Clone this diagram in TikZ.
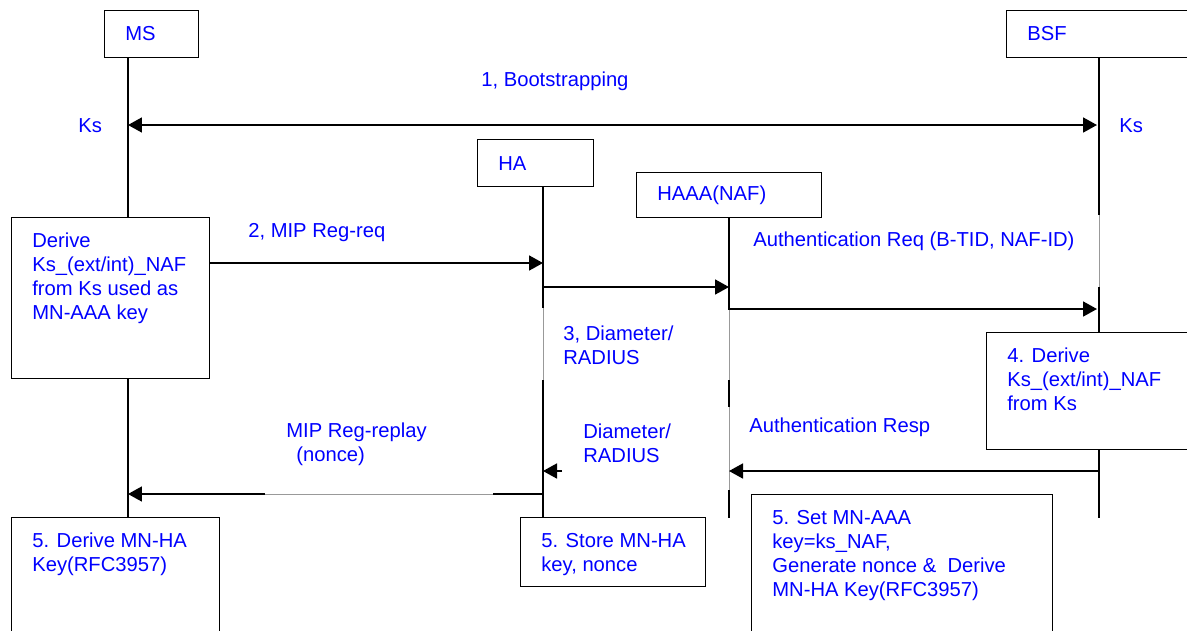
\documentclass[tikz,border=0pt]{standalone}
\usepackage{fontspec}
\setmainfont{Liberation Sans}
\usetikzlibrary{arrows.meta}

\begin{document}
\begin{tikzpicture}[x=0.02cm,y=-0.02cm,
  box/.style={draw,line width=0.75pt,inner sep=0pt,anchor=north west},
  lbl/.style={text=blue,inner sep=0pt,anchor=base west,align=left,font=\fontsize{11.5}{13.6}\selectfont},
  life/.style={line width=0.95pt},
  faint/.style={line width=0.35pt,black!40},
  msg/.style={line width=1pt,-{Triangle[length=0.28cm,width=0.3cm]}}]
\useasboundingbox (0,0) rectangle (1187,630);
\clip (0,0) rectangle (1187,630);
% entities
\node[box,minimum width=1.88cm,minimum height=0.94cm] (ms) at (104,10) {};
\node[box,minimum width=3.72cm,minimum height=0.94cm] (bsf) at (1006,10) {};
\node[box,minimum width=2.32cm,minimum height=0.94cm] (ha) at (477,139) {};
\node[box,minimum width=3.70cm,minimum height=0.90cm] (haaa) at (636,172) {};
% step boxes
\node[box,minimum width=3.96cm,minimum height=3.22cm] (msd) at (11,217) {};
\node[box,minimum width=4.12cm,minimum height=2.34cm] (bsfd) at (986,332) {};
\node[box,minimum width=4.16cm,minimum height=2.60cm] (msk) at (11,517) {};
\node[box,minimum width=3.70cm,minimum height=1.38cm] (has) at (520,517) {};
\node[box,minimum width=6.02cm,minimum height=3.00cm] (haaak) at (751,494) {};
% lifeline x and message y
\coordinate (msl) at (128,0);
\coordinate (hal) at (543,0);
\coordinate (haaal) at (729,0);
\coordinate (bsfl) at (1099,0);
\coordinate (y1) at (0,125);
\coordinate (y2) at (0,263);
\coordinate (y3) at (0,287);
\coordinate (y4) at (0,309);
\coordinate (y5) at (0,471);
\coordinate (y6) at (0,494);
\coordinate (lifeend) at (0,518);
% texts (multi-line: baseline of last line)
\node[lbl] (mst) at (125,40) {MS};
\node[lbl] (bsft) at (1027,40) {BSF};
\node[lbl] (hat) at (498,170) {HA};
\node[lbl] (haaat) at (657,200) {HAAA(NAF)};
\node[lbl] (boot) at (481,86) {1, Bootstrapping};
\node[lbl] (ksl) at (78,132) {Ks};
\node[lbl] (ksr) at (1119,132) {Ks};
\node[lbl] (req) at (248,237) {2, MIP Reg-req};
\node[lbl] (authreq) at (753,246) {Authentication Req (B-TID, NAF-ID)};
\node[lbl] (dia1) at (563,364) {3, Diameter/\\RADIUS};
\node[lbl] (authresp) at (749,432) {Authentication Resp};
\node[lbl] (dia2) at (583,462) {Diameter/\\RADIUS};
\node[lbl] (rep) at (286,461) {MIP Reg-replay\\\hspace*{0.2cm}(nonce)};
\node[lbl] (msdt) at (32,319) {Derive\\Ks\_(ext/int)\_NAF\\from Ks used as\\MN-AAA key};
\node[lbl] (bsfdt) at (1007,410) {4. Derive\\Ks\_(ext/int)\_NAF\\from Ks};
\node[lbl] (mskt) at (32,571) {5. Derive MN-HA\\Key(RFC3957)};
\node[lbl] (hast) at (541,571) {5. Store MN-HA\\key, nonce};
\node[lbl] (haaakt) at (772,596) {5. Set MN-AAA\\key=ks\_NAF,\\Generate nonce \&\ \ Derive\\MN-HA Key(RFC3957)};
% lifelines
\draw[life] (ms.south -| msl) -- (msl |- msd.north);
\draw[life] (msd.south -| msl) -- (msl |- msk.north);
\draw[life] (ha.south -| hal) -- (543,308);
\draw[faint] (543,308) -- (543,380);
\draw[life] (543,380) -- (hal |- has.north);
\draw[life] (haaa.south -| haaal) -- (729,310);
\draw[faint] (729,310) -- (729,380);
\draw[life] (729,380) -- (729,407);
\draw[faint] (729,407) -- (729,490);
\draw[life] (729,490) -- (haaal |- lifeend);
\draw[life] (bsf.south -| bsfl) -- (1099,215);
\draw[faint] (1099,215) -- (1099,287);
\draw[life] (1099,287) -- (bsfl |- bsfd.north);
\draw[life] (bsfd.south -| bsfl) -- (bsfl |- lifeend);
% messages
\draw[msg,{Triangle[length=0.28cm,width=0.3cm]}-{Triangle[length=0.28cm,width=0.3cm]}] (msl |- y1) -- ([xshift=-0.04cm]bsfl |- y1);
\draw[msg] (msd.east |- y2) -- (hal |- y2);
\draw[msg] (hal |- y3) -- (haaal |- y3);
\draw[msg] (haaal |- y4) -- ([xshift=-0.04cm]bsfl |- y4);
\draw[msg] (bsfl |- y5) -- (haaal |- y5);
\coordinate (stub) at (562,471);
\draw[msg] (stub) -- (hal |- y5);
\coordinate (rp1) at (493,494);
\coordinate (rp2) at (265,494);
\draw[life] (hal |- y6) -- (rp1);
\draw[faint] (rp1) -- (rp2);
\draw[msg] (rp2) -- (msl |- y6);
\end{tikzpicture}
\end{document}
